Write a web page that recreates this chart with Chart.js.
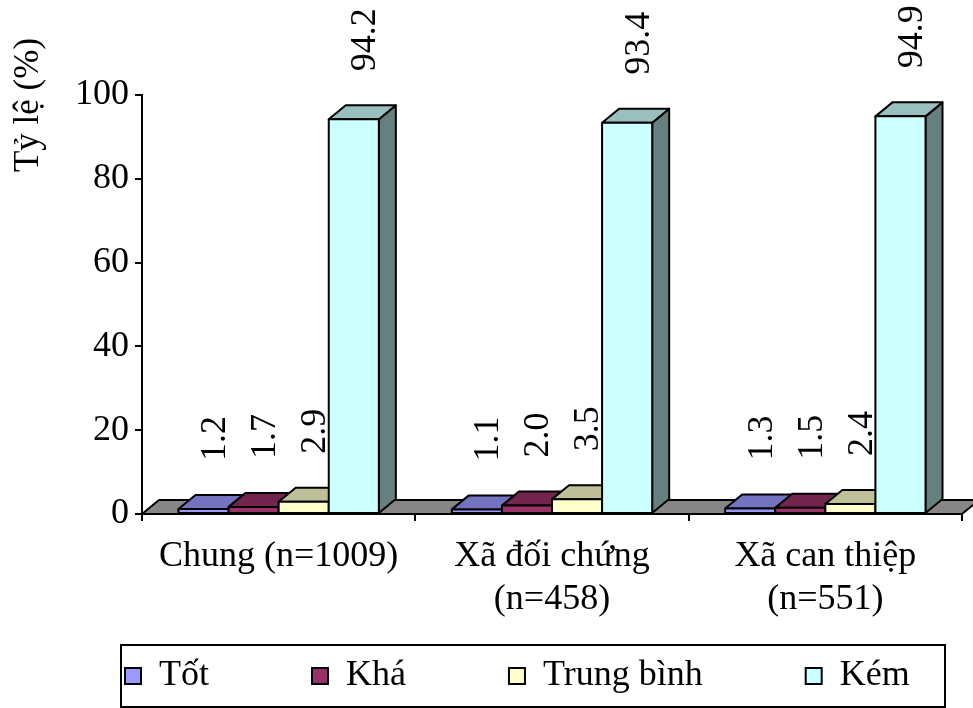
<!DOCTYPE html>
<html>
<head>
<meta charset="utf-8">
<script src="https://cdn.jsdelivr.net/npm/chart.js@4"></script>
<style>
  html, body { margin: 0; padding: 0; background: #fff; }
</style>
</head>
<body>
<canvas id="chart" width="973" height="708"></canvas>
<script>
const categories = [["Chung (n=1009)"], ["Xã đối chứng", "(n=458)"], ["Xã can thiệp", "(n=551)"]];
const seriesNames = ["Tốt", "Khá", "Trung bình", "Kém"];
const totValues = [1.2, 1.1, 1.3];
const khaValues = [1.7, 2.0, 1.5];
const trungBinhValues = [2.9, 3.5, 2.4];
const kemValues = [94.2, 93.4, 94.9];
const yTicks = [0, 20, 40, 60, 80, 100];
const yTitle = "Tỷ lệ (%)";

const frontColors = ["#9999FF", "#993366", "#FFFFCC", "#CCFFFF"];
const topColors = ["#7373BF", "#73264D", "#BFBF99", "#99BFBF"];
const sideColors = ["#4D4D80", "#4D1A33", "#808066", "#668080"];

const FONT = "'Liberation Serif', 'Times New Roman', serif";
const FS = 36;
const DX = 17, DY = 14; // 3d depth offset

Chart.defaults.font.family = FONT;
Chart.defaults.font.size = FS;
Chart.defaults.color = "#000";

const depthPlugin = {
  id: "depth",
  afterLayout(chart) {
    // move the legend items into the framed box at the bottom
    const lg = chart.legend;
    const pad = lg.options.labels.padding;
    lg.left = 125 - pad;
    lg.top = chart.height - 50 - pad;
    lg.bottom = chart.height;
    lg.height = lg.bottom - lg.top;
    lg.right = chart.width + 600;
    lg.width = lg.right - lg.left;
  },
  beforeDatasetsDraw(chart) {
    const { ctx, chartArea: a } = chart;
    ctx.save();
    ctx.beginPath();
    ctx.moveTo(a.left, a.bottom);
    ctx.lineTo(a.left + DX, a.bottom - DY);
    ctx.lineTo(a.right + DX, a.bottom - DY);
    ctx.lineTo(a.right, a.bottom);
    ctx.closePath();
    ctx.fillStyle = "#868686";
    ctx.fill();
    ctx.lineWidth = 2;
    ctx.strokeStyle = "#000";
    ctx.lineJoin = "round";
    ctx.stroke();
    ctx.restore();
  },
  afterDatasetsDraw(chart) {
    const ctx = chart.ctx;
    const bars = [];
    chart.data.datasets.forEach((ds, di) => {
      chart.getDatasetMeta(di).data.forEach((el, i) => bars.push({ el, di, v: ds.data[i] }));
    });
    bars.sort((p, q) => p.el.x - q.el.x);

    ctx.save();
    ctx.lineWidth = 2;
    ctx.strokeStyle = "#000";
    ctx.lineJoin = "round";
    const poly = (pts, fill) => {
      ctx.beginPath();
      pts.forEach(([x, y], k) => (k ? ctx.lineTo(x, y) : ctx.moveTo(x, y)));
      ctx.closePath();
      ctx.fillStyle = fill;
      ctx.fill();
      ctx.stroke();
    };
    bars.forEach(({ el, di }) => {
      const l = el.x - el.width / 2, r = el.x + el.width / 2, t = el.y, b = el.base;
      poly([[r, b], [r, t], [r + DX, t - DY], [r + DX, b - DY]], sideColors[di]);
      poly([[l, t], [r, t], [r + DX, t - DY], [l + DX, t - DY]], topColors[di]);
      poly([[l, b], [l, t], [r, t], [r, b]], frontColors[di]);
    });

    // value labels, rotated
    ctx.fillStyle = "#000";
    ctx.font = FS + "px " + FONT;
    ctx.textAlign = "left";
    ctx.textBaseline = "middle";
    bars.forEach(({ el, v }) => {
      ctx.save();
      ctx.translate(el.x + 12, el.y - DY - 34);
      ctx.rotate(-Math.PI / 2);
      ctx.fillText(v.toFixed(1), 0, 0);
      ctx.restore();
    });
    ctx.restore();
  },
  afterDraw(chart) {
    const ctx = chart.ctx;
    ctx.save();
    // legend frame
    const x0 = 121;
    ctx.lineWidth = 2;
    ctx.strokeStyle = "#000";
    ctx.strokeRect(x0, chart.height - 63, chart.width - 28 - x0, 62);
    // y axis title
    ctx.fillStyle = "#000";
    ctx.font = "35px " + FONT;
    ctx.textAlign = "center";
    ctx.textBaseline = "middle";
    ctx.translate(29, 105);
    ctx.rotate(-Math.PI / 2);
    ctx.fillText(yTitle, 0, 0);
    ctx.restore();
  }
};

const seriesValues = [totValues, khaValues, trungBinhValues, kemValues];

new Chart(document.getElementById("chart"), {
  type: "bar",
  data: {
    labels: categories,
    datasets: seriesNames.map((name, i) => ({
      label: name,
      data: seriesValues[i],
      backgroundColor: frontColors[i],
      borderColor: "#000",
      borderWidth: 2,
      barPercentage: 1,
      categoryPercentage: 0.733
    }))
  },
  options: {
    responsive: false,
    animation: false,
    layout: { padding: { left: 12, top: 95, right: 11, bottom: 0 } },
    plugins: {
      tooltip: { enabled: false },
      legend: {
        position: "bottom",
        align: "start",
        maxHeight: 63,
        labels: {
          boxWidth: 16,
          boxHeight: 16,
          padding: 103,
          color: "#000",
          font: { size: FS }
        }
      }
    },
    scales: {
      x: {
        grid: { display: true, drawOnChartArea: false, color: "#000", lineWidth: 2, tickLength: 7, offset: true },
        border: { color: "#000", width: 2 },
        ticks: { color: "#000", font: { size: FS, lineHeight: 1.2 }, padding: 14, maxRotation: 0, autoSkip: false },
        afterFit: s => { s.height = 131; }
      },
      y: {
        min: 0,
        max: 100,
        grid: { drawOnChartArea: false, color: "#000", lineWidth: 2, tickLength: 7 },
        border: { color: "#000", width: 2 },
        ticks: { color: "#000", font: { size: FS }, padding: 6 },
        afterBuildTicks: s => { s.ticks = yTicks.map(v => ({ value: v })); },
        afterFit: s => { s.width = 130; }
      }
    }
  },
  plugins: [depthPlugin]
});
</script>
</body>
</html>
